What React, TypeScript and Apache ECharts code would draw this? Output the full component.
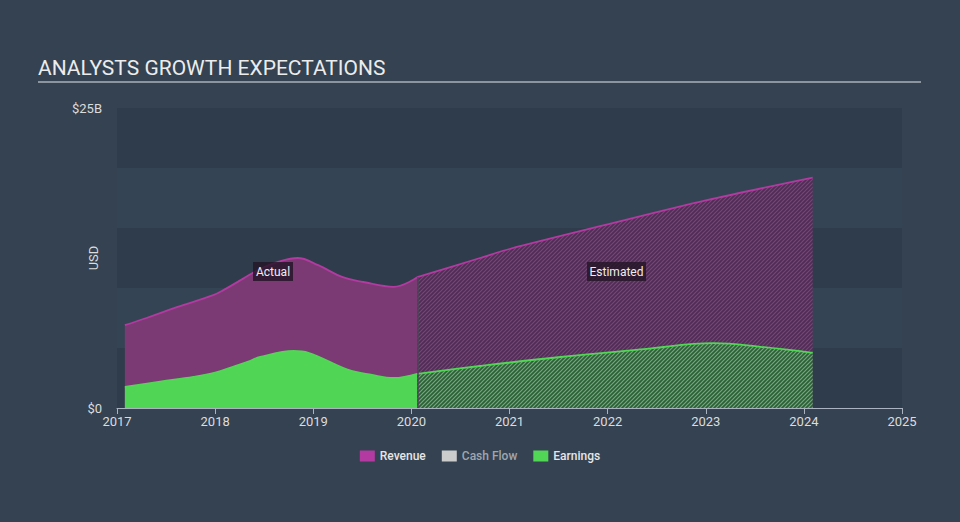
import React, { useEffect, useRef } from "react";
import * as echarts from "echarts";

const yearTicks = [2017, 2018, 2019, 2020, 2021, 2022, 2023, 2024, 2025];
const yTickLabels: Record<number, string> = { 0: "$0", 25: "$25B" };

const revenueActual: [number, number][] = [
  [2017.08, 6.9], [2017.3, 7.5], [2017.61, 8.4], [2017.98, 9.4], [2018.08, 9.8],
  [2018.29, 10.8], [2018.46, 11.6], [2018.65, 12.2], [2018.84, 12.5], [2019.05, 11.9],
  [2019.3, 10.9], [2019.51, 10.5], [2019.82, 10.1], [2020.06, 10.9],
];
const revenueEstimated: [number, number][] = [
  [2020.06, 10.9], [2020.7, 12.5], [2021.0, 13.25], [2022.0, 15.3], [2023.0, 17.3], [2024.09, 19.2],
];
const earningsActual: [number, number][] = [
  [2017.08, 1.75], [2017.44, 2.2], [2017.78, 2.6], [2018.0, 2.95], [2018.15, 3.35],
  [2018.33, 3.85], [2018.46, 4.25], [2018.8, 4.75], [2018.95, 4.6], [2019.35, 3.2],
  [2019.6, 2.75], [2019.82, 2.5], [2020.06, 2.85],
];
const earningsEstimated: [number, number][] = [
  [2020.06, 2.85], [2020.7, 3.5], [2021.52, 4.25], [2022.37, 4.9], [2023.08, 5.4],
  [2023.56, 5.1], [2024.09, 4.6],
];

function makeHatch(bg: string, stripe: string): HTMLCanvasElement {
  const c = document.createElement("canvas");
  const s = 4;
  c.width = s;
  c.height = s;
  const ctx = c.getContext("2d")!;
  ctx.fillStyle = bg;
  ctx.fillRect(0, 0, s, s);
  ctx.strokeStyle = stripe;
  ctx.lineWidth = 1.2;
  ctx.beginPath();
  ctx.moveTo(0, s);
  ctx.lineTo(s, 0);
  ctx.moveTo(-1, 1);
  ctx.lineTo(1, -1);
  ctx.moveTo(s - 1, s + 1);
  ctx.lineTo(s + 1, s - 1);
  ctx.stroke();
  return c;
}

export default function App() {
  const ref = useRef<HTMLDivElement>(null);
  useEffect(() => {
    if (!ref.current) return;
    const chart = echarts.init(ref.current, null, { renderer: "svg" });
    const revHatch = makeHatch("#45344f", "#8c3985");
    const earnHatch = makeHatch("#3a5548", "#58bd5b");
    const font = "Roboto";
    const revColor = "#b23aa0";
    const earnColor = "#52d656";
    chart.setOption({
      animation: false,
      backgroundColor: "#344252",
      textStyle: { fontFamily: font },
      grid: { left: 117, right: 58, top: 108, bottom: 114 },
      xAxis: {
        type: "value",
        min: 2017,
        max: 2025,
        interval: 1,
        axisLine: { show: true, lineStyle: { color: "#aab4c0", width: 1 } },
        axisTick: { show: true, length: 6, lineStyle: { color: "#aab4c0" } },
        splitLine: { show: false },
        axisLabel: {
          color: "#dcdcdc",
          fontSize: 13,
          margin: 7,
          formatter: (v: number) => (yearTicks.includes(v) ? String(v) : ""),
        },
      },
      yAxis: {
        type: "value",
        min: 0,
        max: 25,
        interval: 5,
        name: "USD",
        nameLocation: "middle",
        nameGap: 17,
        nameMoveOverlap: false,
        nameTextStyle: { color: "#dcdcdc", fontSize: 13 },
        axisLine: { show: false },
        axisTick: { show: false },
        splitLine: { show: false },
        splitArea: { show: true, areaStyle: { color: ["#2e3c4c", "#344454"] } },
        axisLabel: {
          color: "#dcdcdc",
          fontSize: 13,
          margin: 15,
          formatter: (v: number) => yTickLabels[v] ?? "",
        },
      },
      legend: {
        bottom: 55,
        left: "center",
        icon: "rect",
        itemWidth: 15,
        itemHeight: 11,
        itemGap: 16,
        textStyle: { color: "#e6e6e6", fontSize: 12, fontFamily: font, fontWeight: 500 },
        data: [
          { name: "Revenue" },
          { name: "Cash Flow", textStyle: { color: "#a0a6ae" } },
          { name: "Earnings" },
        ],
      },
      series: [
        {
          name: "Revenue",
          type: "line",
          data: revenueActual,
          smooth: 0.4,
          showSymbol: false,
          itemStyle: { color: revColor },
          lineStyle: { color: revColor, width: 1.8 },
          areaStyle: { color: "#7b3a73", opacity: 1 },
          z: 2,
        },
        {
          name: "Revenue",
          type: "line",
          data: revenueEstimated,
          smooth: 0.3,
          showSymbol: false,
          itemStyle: { color: revColor },
          lineStyle: { color: revColor, width: 1.8 },
          areaStyle: { color: { image: revHatch, repeat: "repeat" }, opacity: 1 },
          markLine: {
            silent: true,
            symbol: "none",
            label: { show: false },
            lineStyle: { color: "#4c4658", width: 1.5, type: "solid" },
            data: [[{ coord: [2020.06, 0] }, { coord: [2020.06, 10.9] }]],
          },
          z: 2,
        },
        {
          name: "Cash Flow",
          type: "line",
          data: [],
          itemStyle: { color: "#cccccc" },
        },
        {
          name: "Earnings",
          type: "line",
          data: earningsActual,
          smooth: 0.4,
          showSymbol: false,
          itemStyle: { color: earnColor },
          lineStyle: { color: earnColor, width: 1.8 },
          areaStyle: { color: "#51d555", opacity: 1 },
          z: 3,
        },
        {
          name: "Earnings",
          type: "line",
          data: earningsEstimated,
          smooth: 0.4,
          showSymbol: false,
          itemStyle: { color: earnColor },
          lineStyle: { color: earnColor, width: 1.8 },
          areaStyle: { color: { image: earnHatch, repeat: "repeat" }, opacity: 1 },
          z: 3,
        },
      ],
      graphic: [
        {
          type: "text",
          left: 38,
          top: 57,
          style: { text: "ANALYSTS GROWTH EXPECTATIONS", fill: "#ececec", font: `21px ${font}` },
        },
        {
          type: "line",
          shape: { x1: 38, y1: 82, x2: 921, y2: 82 },
          style: { stroke: "#a8b0ba", lineWidth: 1.5 },
        },
        {
          type: "rect",
          z: 100,
          shape: { x: 253, y: 262, width: 40, height: 19 },
          style: { fill: "rgba(35,20,38,0.8)" },
        },
        {
          type: "text",
          z: 101,
          x: 273,
          y: 271.5,
          style: { text: "Actual", fill: "#eeeeee", font: `12px ${font}`, align: "center", verticalAlign: "middle" },
        },
        {
          type: "rect",
          z: 100,
          shape: { x: 587, y: 262, width: 59, height: 19 },
          style: { fill: "rgba(35,20,38,0.8)" },
        },
        {
          type: "text",
          z: 101,
          x: 616.5,
          y: 271.5,
          style: { text: "Estimated", fill: "#eeeeee", font: `12px ${font}`, align: "center", verticalAlign: "middle" },
        },
      ],
    });
    return () => chart.dispose();
  }, []);
  return (
    <div
      ref={ref}
      style={{ position: "fixed", left: 0, top: 0, width: 960, height: 522 }}
    />
  );
}
